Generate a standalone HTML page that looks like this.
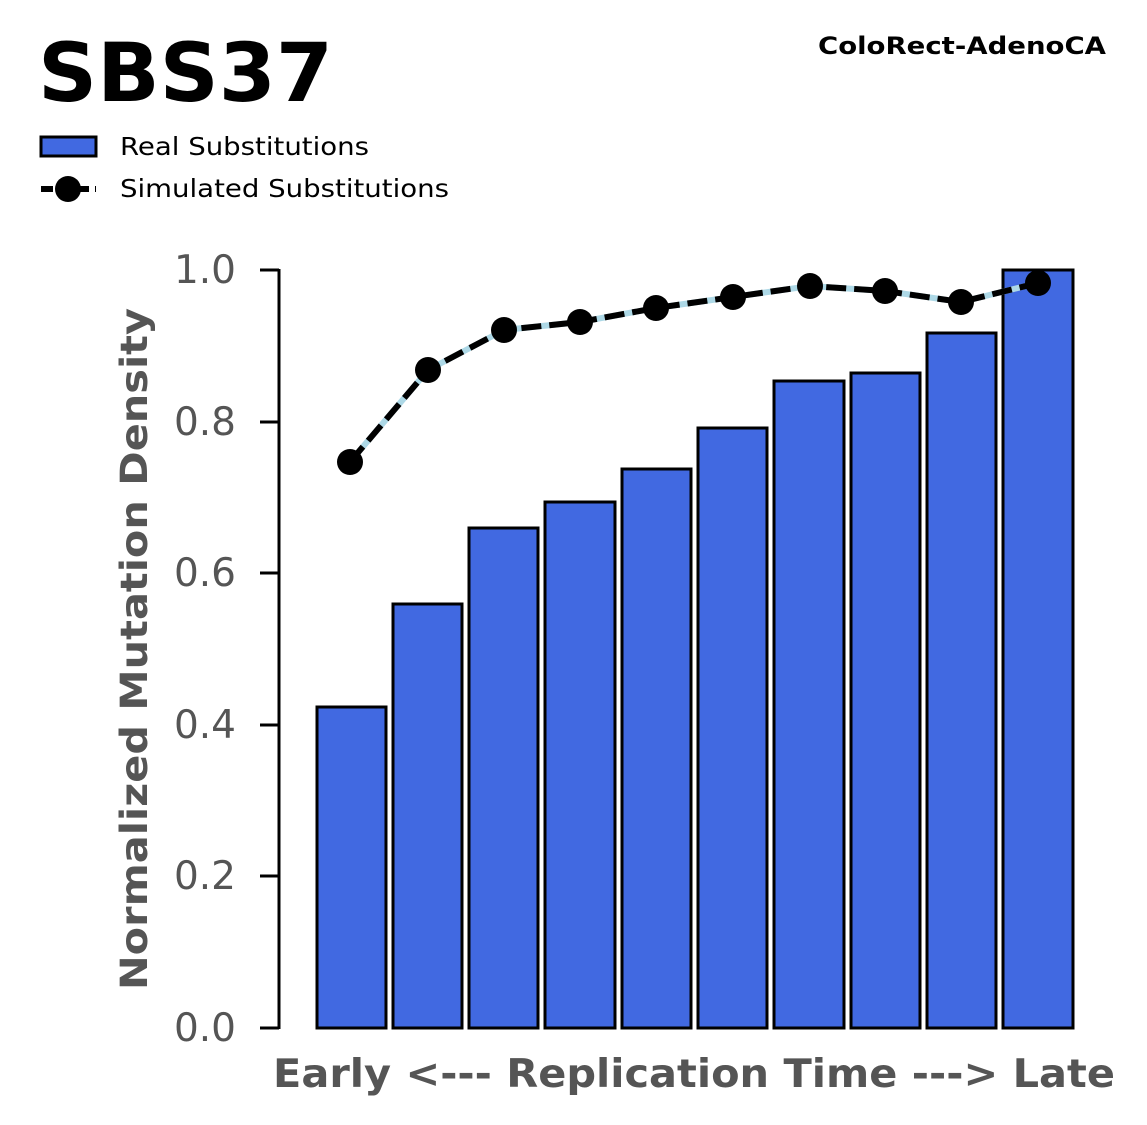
<!DOCTYPE html>
<html><head><meta charset="utf-8"><style>
body{margin:0;background:#fff;}
svg{display:block;font-family:"DejaVu Sans","Liberation Sans",sans-serif;}
</style></head><body>
<svg width="1147" height="1125" viewBox="0 0 1147 1125" xmlns="http://www.w3.org/2000/svg">
<rect width="1147" height="1125" fill="#fff"/>
<text x="38" y="101" font-size="81" font-weight="bold" fill="#000" textLength="295" lengthAdjust="spacingAndGlyphs">SBS37</text>
<text x="818" y="54" font-size="24" font-weight="bold" fill="#000" textLength="288" lengthAdjust="spacingAndGlyphs">ColoRect-AdenoCA</text>
<rect x="41" y="137" width="55" height="19" fill="#4169e1" stroke="#000" stroke-width="3"/>
<text x="120" y="155" font-size="25" fill="#000" textLength="249" lengthAdjust="spacingAndGlyphs">Real Substitutions</text>
<line x1="41" y1="189" x2="96" y2="189" stroke="#000" stroke-width="6" stroke-dasharray="12,6"/>
<circle cx="68" cy="189" r="13" fill="#000"/>
<text x="120" y="197" font-size="25" fill="#000" textLength="329" lengthAdjust="spacingAndGlyphs">Simulated Substitutions</text>
<g fill="#4169e1" stroke="#000" stroke-width="3">
<rect x="317" y="707" width="69" height="321"/>
<rect x="393" y="604" width="69" height="424"/>
<rect x="469" y="528" width="69" height="500"/>
<rect x="545" y="502" width="70" height="526"/>
<rect x="622" y="469" width="69" height="559"/>
<rect x="698" y="428" width="69" height="600"/>
<rect x="774" y="381" width="70" height="647"/>
<rect x="851" y="373" width="69" height="655"/>
<rect x="927" y="333" width="69" height="695"/>
<rect x="1003" y="270" width="70" height="758"/>
</g>
<polyline points="350,462 428,370 504,330 580,322 656,308 733,297 810,286 885,291 961,302 1038,283" fill="none" stroke="#add8e6" stroke-width="6"/>
<polyline points="350,462 428,370 504,330 580,322 656,308 733,297 810,286 885,291 961,302 1038,283" fill="none" stroke="#000" stroke-width="6" stroke-dasharray="20,8"/>
<g fill="#000">
<circle cx="350" cy="462" r="13"/><circle cx="428" cy="370" r="13"/><circle cx="504" cy="330" r="13"/><circle cx="580" cy="322" r="13"/><circle cx="656" cy="308" r="13"/><circle cx="733" cy="297" r="13"/><circle cx="810" cy="286" r="13"/><circle cx="885" cy="291" r="13"/><circle cx="961" cy="302" r="13"/><circle cx="1038" cy="283" r="13"/>
</g>
<line x1="279" y1="269" x2="279" y2="1029" stroke="#000" stroke-width="3"/>
<g stroke="#000" stroke-width="3">
<line x1="260" y1="1028" x2="279" y2="1028"/><line x1="260" y1="876" x2="279" y2="876"/><line x1="260" y1="725" x2="279" y2="725"/><line x1="260" y1="573" x2="279" y2="573"/><line x1="260" y1="422" x2="279" y2="422"/><line x1="260" y1="270" x2="279" y2="270"/>
</g>
<g font-size="39" fill="#555" text-anchor="end">
<text x="236" y="1041">0.0</text><text x="236" y="889">0.2</text><text x="236" y="738">0.4</text><text x="236" y="586">0.6</text><text x="236" y="435">0.8</text><text x="236" y="283">1.0</text>
</g>
<text transform="translate(147,649) rotate(-90)" font-size="37" font-weight="bold" fill="#555" text-anchor="middle" textLength="682" lengthAdjust="spacingAndGlyphs">Normalized Mutation Density</text>
<text x="273" y="1087" font-size="39" font-weight="bold" fill="#555" textLength="842" lengthAdjust="spacingAndGlyphs">Early &lt;--- Replication Time ---&gt; Late</text>
</svg>
</body></html>
